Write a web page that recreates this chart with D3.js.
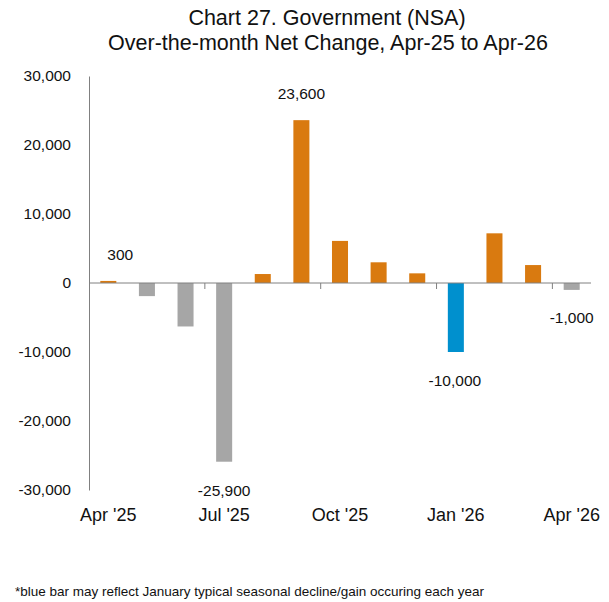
<!DOCTYPE html>
<html>
<head>
<meta charset="utf-8">
<script src="https://cdn.jsdelivr.net/npm/d3@7"></script>
<style>
  body { margin: 0; background: #fff; }
  svg text { font-family: "Liberation Sans", Arial, sans-serif; fill: #111; }
</style>
</head>
<body>
<svg id="chart"></svg>
<script>
// months shown on the x axis
const months = ["Apr '25", "May '25", "Jun '25", "Jul '25", "Aug '25", "Sep '25", "Oct '25",
                "Nov '25", "Dec '25", "Jan '26", "Feb '26", "Mar '26", "Apr '26"];
// over-the-month net change
const changes = [300, -1900, -6300, -25900, 1300, 23600, 6100, 3000, 1400, -10000, 7200, 2600, -1000];
// which bars get a value label
const labelled = ["Apr '25", "Jul '25", "Sep '25", "Jan '26", "Apr '26"];
const xTickLabels = ["Apr '25", "Jul '25", "Oct '25", "Jan '26", "Apr '26"];
const yTicks = [-30000, -20000, -10000, 0, 10000, 20000, 30000];

const W = 609, H = 602;
const left = 89, right = 591;
const svg = d3.select("#chart").attr("width", W).attr("height", H);

const x = d3.scaleBand().domain(months).range([left, right]).paddingInner(0.585).paddingOuter(0.2925);
const y = d3.scaleLinear().domain([-30000, 30000]).range([490, 76]);
// plain hyphen instead of d3's unicode minus
const fmt = function(v) { return d3.format(",")(v).replace("\u2212", "-"); };

function barColor(d, i) {
  if (months[i] === "Jan '26") return "#0090CE";
  return d >= 0 ? "#D97A10" : "#A6A6A6";
}

// title
svg.append("text").attr("x", 327).attr("y", 25).attr("text-anchor", "middle")
  .style("font-size", "21.5px").text("Chart 27. Government (NSA)");
svg.append("text").attr("x", 328).attr("y", 50).attr("text-anchor", "middle")
  .style("font-size", "21.5px").text("Over-the-month Net Change, Apr-25 to Apr-26");

// y axis
const yAxis = svg.append("g").attr("transform", "translate(" + left + ",0)")
  .call(d3.axisLeft(y).tickValues(yTicks).tickSize(0).tickPadding(18).tickFormat(fmt));
yAxis.select(".domain").attr("stroke", "#808080");
yAxis.selectAll("text").style("font-size", "15.5px").attr("fill", "#111");

// bars
svg.append("g").selectAll("rect")
  .data(changes)
  .enter().append("rect")
  .attr("x", function(d, i) { return x(months[i]); })
  .attr("width", x.bandwidth())
  .attr("y", function(d) { return y(Math.max(0, d)); })
  .attr("height", function(d) { return Math.abs(y(d) - y(0)); })
  .attr("fill", barColor);

// x axis at zero, ticks every 3 months on category boundaries
const tickPos = [3, 6, 9, 12].map(function(k) { return x(months[k]) - x.step() * x.paddingInner() / 2; });
svg.append("line").attr("x1", left).attr("x2", right).attr("y1", y(0)).attr("y2", y(0))
  .attr("stroke", "#808080").attr("stroke-width", 1);
svg.append("g").selectAll("line").data(tickPos).enter().append("line")
  .attr("x1", function(d) { return d; }).attr("x2", function(d) { return d; })
  .attr("y1", y(0)).attr("y2", y(0) + 6).attr("stroke", "#808080");

// x tick labels
svg.append("g").selectAll("text").data(xTickLabels).enter().append("text")
  .attr("x", function(d) { return x(d) + x.bandwidth() / 2; })
  .attr("y", 521).attr("text-anchor", "middle").style("font-size", "18px")
  .text(function(d) { return d; });

// value labels
const labelOffsets = {
  "Apr '25": [12, 260],
  "Jul '25": [0, 496],
  "Sep '25": [0, 99],
  "Jan '26": [-1, 386],
  "Apr '26": [0, 323]
};
svg.append("g").selectAll("text").data(labelled).enter().append("text")
  .attr("x", function(d) { return x(d) + x.bandwidth() / 2 + labelOffsets[d][0]; })
  .attr("y", function(d) { return labelOffsets[d][1]; })
  .attr("text-anchor", "middle").style("font-size", "15.5px")
  .text(function(d) { return fmt(changes[months.indexOf(d)]); });

// footnote
svg.append("text").attr("x", 15).attr("y", 596).style("font-size", "13.5px")
  .text("*blue bar may reflect January typical seasonal decline/gain occuring each year");
</script>
</body>
</html>
